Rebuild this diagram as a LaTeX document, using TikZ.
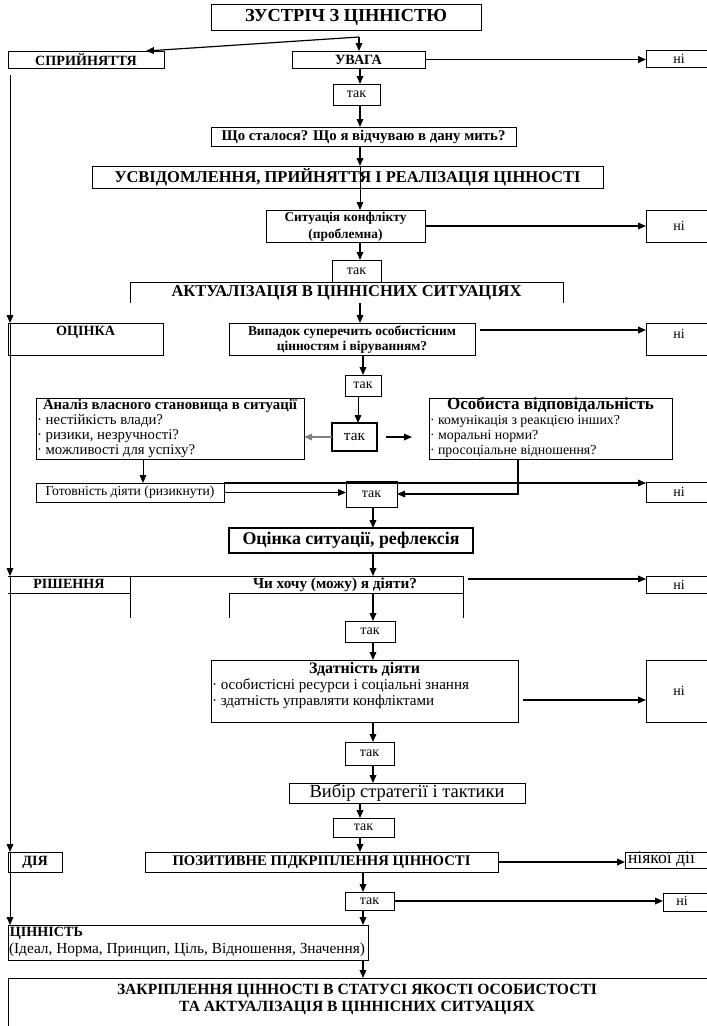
\documentclass[tikz,border=0pt]{standalone}
\usepackage{fontspec}
\setmainfont{Liberation Serif}
\usetikzlibrary{arrows.meta,calc}
\newlength\fitlen
\newcommand\fitto[2]{\settowidth\fitlen{\fontsize{10pt}{12pt}\selectfont #2}\pgfmathsetmacro\fitsz{7.5*#1/\fitlen}\global\let\fitszg\fitsz\fontsize{\fitsz pt}{\fitsz pt}\selectfont}
\newcommand\ft[2]{\fitto{#1}{#2}#2}
\newcommand\samesz{\fontsize{\fitszg pt}{\fitszg pt}\selectfont}
\newcommand\nsz{\fontsize{10.5pt}{12pt}\selectfont}
\newcommand\lsz{\fontsize{10.6pt}{12pt}\selectfont}
\newcommand\bx[7][]{\node[box,#1,minimum width={(#5-#3)*0.75pt},minimum height={(#6-#4)*0.75pt}] (#2) at ({(#3+#5)/2},{(#4+#6)/2}) {#7};}
\tikzset{
  box/.style={draw, line width=0.6pt, inner sep=0pt, outer sep=0pt},
  txt/.style={inner sep=0pt, outer sep=0pt, anchor=mid},
  ltxt/.style={inner sep=0pt, outer sep=0pt, anchor=mid west},
  arr/.style={line width=0.9pt, -{Triangle[length=6pt,width=5pt]}},
  arrthin/.style={line width=0.6pt, -{Triangle[length=6pt,width=5pt]}},
  arrthick/.style={line width=1.3pt, -{Triangle[length=6pt,width=5pt]}},
  boxline/.style={line width=0.6pt},
}
\begin{document}
\begin{tikzpicture}[x=0.75pt,y=-0.75pt]
\useasboundingbox (0,0) rectangle (707,1026);
\fill[white] (0,0) rectangle (707,1026);
\clip (0,0) rectangle (707,1026);
% columns
\coordinate (c1) at (360,0);
\coordinate (c2) at (373,0);
\coordinate (c3) at (358,0);
\coordinate (c4) at (143,0);
\coordinate (c5) at (518,0);
\coordinate (c6) at (363,0);
\coordinate (J) at (359,37);
\coordinate (L0) at (10,75);
% boxes
\bx{zust}{211}{4}{481}{30}{\bfseries\ft{202}{ЗУСТРІЧ З ЦІННІСТЮ}}
\bx{spr}{8}{51}{164}{68}{\bfseries\lsz СПРИЙНЯТТЯ}
\bx{uvaga}{292}{51}{425}{68}{\bfseries\lsz УВАГА}
\bx{ni1}{646}{50}{712}{67}{\nsz ні}
\bx{tak1}{333}{84}{380}{105}{\nsz так}
\bx{sho}{211}{127}{516}{146}{\bfseries\ft{284}{Що сталося? Що я відчуваю в дану мить?}}
\bx{usv}{92}{166}{603}{188}{\bfseries\ft{466}{УСВІДОМЛЕННЯ, ПРИЙНЯТТЯ І РЕАЛІЗАЦІЯ ЦІННОСТІ}}
\bx{sit}{266}{210}{425}{242}{}
\node[txt,font=\bfseries] (sit1) at (345.5,218) {\ft{122}{Ситуація конфлікту}};
\node[txt,font=\bfseries] (sit2) at (345.5,235) {\samesz (проблемна)};
\bx{ni2}{646}{210}{712}{242}{\nsz ні}
\bx{tak2}{332}{260}{381}{282}{\nsz так}
\bx[draw=none]{akt}{130}{282}{563}{303}{\bfseries\ft{350}{АКТУАЛІЗАЦІЯ В ЦІННІСНИХ СИТУАЦІЯХ}}
\draw[boxline] (akt.south west) -- (akt.north west) -- (akt.north east) -- (akt.south east);
\bx{ocinka}{8}{323}{163}{355}{}
\node[txt,font=\bfseries] (ocinkat) at (85.5,332) {\lsz ОЦІНКА};
\bx{vyp}{229}{323}{475}{355}{}
\node[txt,font=\bfseries] (vyp1) at (352,332) {\ft{208}{Випадок суперечить особистісним}};
\node[txt,font=\bfseries] (vyp2) at (352,347) {\samesz цінностям і віруванням?};
\bx{ni3}{646}{323}{712}{355}{}
\node[txt] (ni3t) at (679,335) {\nsz ні};
\bx{tak3}{345}{375}{381}{396}{\nsz так}
\bx[line width=1.1pt]{tak4}{332}{423}{377}{451}{\fontsize{11.5pt}{13pt}\selectfont так}
\bx{anal}{36}{398}{304}{459}{}
\node[txt,font=\bfseries] (anal0) at (170,406) {\ft{254}{Аналіз власного становища в ситуації}};
\node[ltxt] (anal1) at (37,421) {\ft{126}{· нестійкість влади?}};
\node[ltxt] (anal2) at (37,436) {\samesz · ризики, незручності?};
\node[ltxt] (anal3) at (37,451) {\samesz · можливості для успіху?};
\bx{osob}{429}{398}{672}{459}{}
\node[txt,font=\bfseries] (osob0) at (550.5,406) {\ft{207}{Особиста відповідальність}};
\node[ltxt] (osob1) at (430,421) {\ft{190}{· комунікація з реакцією інших?}};
\node[ltxt] (osob2) at (430,436) {\samesz · моральні норми?};
\node[ltxt] (osob3) at (430,451) {\samesz · просоціальне відношення?};
\bx{gotov}{36}{483}{224}{502}{\ft{169}{Готовність діяти (ризикнути)}}
\bx{tak5}{346}{481}{397}{507}{\nsz так}
\bx{ni4}{646}{482}{712}{502}{\nsz ні}
\bx[line width=1.1pt]{ocsit}{229}{528}{473}{553}{\bfseries\ft{217}{Оцінка ситуації, рефлексія}}
% decision block
\coordinate (rtop) at (8,576);
\coordinate (rtr) at (463,576);
\coordinate (rmid) at (229,593);
\draw[boxline] (rtop) -- (rtr) -- (463,618);
\draw[boxline] (8,593) -- (130,593);
\draw[boxline] (130,576) -- (130,618);
\draw[boxline] (rmid) -- (463,593);
\draw[boxline] (rmid) -- (229,618);
\node[txt,font=\bfseries] (rish) at (69,585) {\lsz РІШЕННЯ};
\node[txt,font=\bfseries] (chy) at (335,585) {\ft{164}{Чи хочу (можу) я діяти?}};
\bx{ni5}{646}{576}{712}{593}{\nsz ні}
\bx{tak6}{345}{621}{395}{642}{\nsz так}
\bx{zdat}{211}{660}{518}{722}{}
\node[txt,font=\bfseries] (zdat0) at (364.5,670) {\ft{111}{Здатність діяти}};
\node[ltxt] (zdat1) at (212,686) {\ft{257}{· особистісні ресурси і соціальні знання}};
\node[ltxt] (zdat2) at (212,702) {\samesz · здатність управляти конфліктами};
\bx{ni6}{646}{660}{712}{722}{\nsz ні}
\bx{tak7}{345}{742}{394}{765}{\nsz так}
\bx{vybir}{289}{783}{525}{803}{\ft{195}{Вибір стратегії і тактики}}
\bx{tak8}{333}{818}{394}{837}{\nsz так}
\bx{diya}{8}{852}{62}{872}{\bfseries\lsz ДІЯ}
\bx{pozyt}{145}{852}{498}{872}{\bfseries\ft{298}{ПОЗИТИВНЕ ПІДКРІПЛЕННЯ ЦІННОСТІ}}
\bx{niyak}{625}{852}{712}{868}{}
\node[ltxt] (niyakt) at (628,860) {\ft{67}{ніякої дії}};
\bx{tak9}{345}{892}{394}{910}{\nsz так}
\bx{ni7}{663}{893}{712}{911}{}
\node[txt] (ni7t) at (682,902) {\nsz ні};
\bx{cinn}{8}{925}{368}{960}{}
\node[ltxt,font=\bfseries] (cinn1) at (10,933) {\lsz ЦІННІСТЬ};
\node[ltxt] (cinn2) at (9,950) {\ft{356}{(Ідеал, Норма, Принцип, Ціль, Відношення, Значення)}};
\bx{zakr}{8}{978}{712}{1040}{}
\node[txt,font=\bfseries] (zakr1) at (357,991) {\ft{480}{ЗАКРІПЛЕННЯ ЦІННОСТІ В СТАТУСІ ЯКОСТІ ОСОБИСТОСТІ}};
\node[txt,font=\bfseries] (zakr2) at (357,1008) {\samesz ТА АКТУАЛІЗАЦІЯ В ЦІННІСНИХ СИТУАЦІЯХ};
% connectors
\draw[arr] (J) -- ($(spr.north east)+(-18,0)$);
\draw[arr] (J) -- (J |- uvaga.north);
\draw[arrthick] (uvaga.east) -- (uvaga.east -| ni1.west);
\draw[arr] (c1 |- uvaga.south) -- (c1 |- tak1.north);
\draw[arr] (c1 |- tak1.south) -- (c1 |- sho.north);
\draw[arr] (c1 |- sho.south) -- (c1 |- usv.north);
\draw[arrthin] (c1 |- usv.north) -- (c1 |- sit.north);
\draw[arr] (sit.east) -- (sit.east -| ni2.west);
\draw[arr] (c1 |- sit.south) -- (c1 |- tak2.north);
\draw[arr] (c1 |- akt.south) -- (c1 |- vyp.north);
\draw[arrthin] (L0) -- (L0 |- ocinka.north);
\draw[arrthin] (L0 |- ocinka.north) -- (L0 |- rtop);
\draw[arrthin] (L0 |- rtop) -- (L0 |- diya.north);
\draw[arrthin] (L0 |- diya.north) -- (L0 |- cinn.north);
\draw[arrthick] ($(vyp.east)+(5,-9)$) -- ($(vyp.east -| ni3.west)+(0,-9)$);
\draw[arr] (c6 |- vyp.south) -- (c6 |- tak3.north);
\draw[arrthin] (c3 |- tak3.south) -- (c3 |- tak4.north);
\draw[arr, gray] (tak4.west) -- (tak4.west -| anal.east);
\draw[arr] ($(tak4.east)+(9,0)$) -- ($(tak4.east -| osob.west)+(-17,0)$);
\draw[arrthin] (c4 |- anal.south) -- (c4 |- gotov.north);
\draw[arr] (c5 |- osob.south) -- (c5 |- tak5.east) -- (tak5.east);
\draw[arr] (gotov.north east) -- (gotov.north east -| ni4.west);
\draw[arr] (gotov.east) -- (gotov.east -| tak5.west);
\draw[arr] (c2 |- tak5.south) -- (c2 |- ocsit.north);
\draw[arr] (c2 |- ocsit.south) -- (c2 |- rtop);
\draw[arr] ($(rtr)+(5,3)$) -- ($(rtr -| ni5.west)+(0,3)$);
\draw[arr] (c2 |- rmid) -- (c2 |- tak6.north);
\draw[arr] (c2 |- tak6.south) -- (c2 |- zdat.north);
\draw[arr] ($(zdat.east)+(5,9)$) -- ($(zdat.east -| ni6.west)+(0,9)$);
\draw[arr] (c2 |- zdat.south) -- (c2 |- tak7.north);
\draw[arr] (c2 |- tak7.south) -- (c2 |- vybir.north);
\draw[arr] (c1 |- vybir.south) -- (c1 |- tak8.north);
\draw[arr] (c1 |- tak8.south) -- (c1 |- pozyt.north);
\draw[arrthick] (pozyt.east) -- (pozyt.east -| niyak.west);
\draw[arr] (c6 |- pozyt.south) -- (c6 |- tak9.north);
\draw[arr] (tak9.east) -- (tak9.east -| ni7.west);
\draw[arr] (c6 |- tak9.south) -- (c6 |- cinn.north);
\draw[arr] (c6 |- cinn.south) -- (c6 |- zakr.north);
\end{tikzpicture}
\end{document}
